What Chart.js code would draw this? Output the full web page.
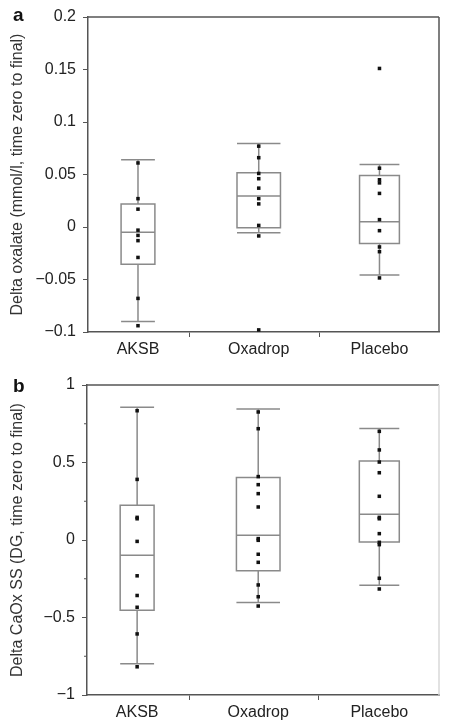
<!DOCTYPE html>
<html>
<head>
<meta charset="utf-8">
<script src="https://cdn.jsdelivr.net/npm/chart.js@4.4.1/dist/chart.umd.min.js"></script>
<style>
  html, body { margin: 0; padding: 0; background: #fff; }
  #wrap { position: relative; width: 449px; height: 726px; }
  canvas { position: absolute; left: 0; }
</style>
</head>
<body>
<div id="wrap">
  <canvas id="chartA" width="449" height="360" style="top:0"></canvas>
  <canvas id="chartB" width="449" height="366" style="top:360px"></canvas>
</div>
<script>
const groups = ["AKSB", "Oxadrop", "Placebo"];

// panel a: delta oxalate, individual patients
const oxAksb    = [0.061, 0.027, 0.017, -0.003, -0.008, -0.013, -0.029, -0.068, -0.094];
const oxOxadrop = [0.077, 0.066, 0.051, 0.046, 0.037, 0.027, 0.022, 0.0015, -0.0085, -0.098];
const oxPlacebo = [0.151, 0.056, 0.045, 0.042, 0.032, 0.007, -0.0035, -0.019, -0.0235, -0.0485];
// panel a: box stats (whisker low, q1, median, q3, whisker high)
const oxLo  = [-0.090, -0.0054, -0.0456];
const oxQ1  = [-0.0355, -0.0007, -0.0156];
const oxMed = [-0.005, 0.0295, 0.005];
const oxQ3  = [0.022, 0.0516, 0.049];
const oxHi  = [0.064, 0.0795, 0.0595];
const oxTicks = [-0.1, -0.05, 0, 0.05, 0.1, 0.15, 0.2];

// panel b: delta CaOx SS
const ssAksb    = [0.834, 0.391, 0.146, 0.137, -0.009, -0.231, -0.358, -0.434, -0.606, -0.818];
const ssOxadrop = [0.826, 0.718, 0.409, 0.357, 0.299, 0.213, 0.009, -0.002, -0.092, -0.144, -0.290, -0.366, -0.426];
const ssPlacebo = [0.701, 0.581, 0.503, 0.434, 0.282, 0.146, 0.137, 0.041, -0.015, -0.030, -0.247, -0.316];
const ssLo  = [-0.798, -0.404, -0.292];
const ssQ1  = [-0.453, -0.198, -0.013];
const ssMed = [-0.099, 0.030, 0.166];
const ssQ3  = [0.224, 0.404, 0.510];
const ssHi  = [0.856, 0.845, 0.720];
const ssTicks = [-1, -0.5, 0, 0.5, 1];
const ssMinor = [-0.75, -0.25, 0.25, 0.75];

const FONT = "'Liberation Sans', Arial, sans-serif";
const AXIS = "#555";
const BOXC = "#8a8a8a";
const boxWidths = [0.28, 0.36, 0.33];
const sepTicks = [1.43, 2.5];

function fmt(v) {
  const r = Math.round(v * 100) / 100;
  return r === 0 ? "0" : String(r).replace("-", "\u2212");
}

function boxPlugin(stats, letter, opt) {
  return {
    id: "boxes",
    beforeDatasetsDraw(chart) {
      const { ctx, scales: { x, y } } = chart;
      ctx.save();
      ctx.strokeStyle = BOXC;
      ctx.lineWidth = 1.5;
      stats.q1.forEach((q1, i) => {
        const xc = x.getPixelForValue(i + 1);
        const hw = x.getPixelForValue(i + 1 + boxWidths[i] / 2) - xc;
        const lo = y.getPixelForValue(stats.lo[i]);
        const hi = y.getPixelForValue(stats.hi[i]);
        const b = y.getPixelForValue(q1);
        const t = y.getPixelForValue(stats.q3[i]);
        const m = y.getPixelForValue(stats.med[i]);
        ctx.beginPath();
        ctx.moveTo(xc, hi); ctx.lineTo(xc, t);
        ctx.moveTo(xc, b); ctx.lineTo(xc, lo);
        ctx.moveTo(xc - hw, hi); ctx.lineTo(xc + hw, hi);
        ctx.moveTo(xc - hw, lo); ctx.lineTo(xc + hw, lo);
        ctx.moveTo(xc - hw, m); ctx.lineTo(xc + hw, m);
        ctx.rect(xc - hw, t, 2 * hw, b - t);
        ctx.stroke();
      });
      ctx.restore();
    },
    afterDraw(chart) {
      const { ctx, chartArea: a, scales: { y } } = chart;
      ctx.save();
      // top and right frame
      ctx.lineWidth = 1.5;
      ctx.strokeStyle = AXIS;
      ctx.beginPath();
      ctx.moveTo(a.left, a.top); ctx.lineTo(a.right, a.top);
      ctx.stroke();
      ctx.strokeStyle = opt.rightColor;
      ctx.beginPath();
      ctx.moveTo(a.right, a.top); ctx.lineTo(a.right, a.bottom);
      ctx.stroke();
      // minor ticks
      ctx.strokeStyle = AXIS;
      ctx.lineWidth = 1;
      (opt.minor || []).forEach(v => {
        const py = y.getPixelForValue(v);
        ctx.beginPath();
        ctx.moveTo(a.left - 3, py); ctx.lineTo(a.left, py);
        ctx.stroke();
      });
      // panel letter
      ctx.fillStyle = "#111";
      ctx.font = "bold 19px " + FONT;
      ctx.fillText(letter, 13, opt.letterY);
      ctx.restore();
    }
  };
}

function makeChart(id, sets, stats, yMin, yMax, ticks, title, layout, letter, opt) {
  const datasets = sets.map((pts, i) => ({
    data: pts.map(v => ({ x: i + 1, y: v })),
    pointStyle: "rect",
    pointRadius: 2.5,
    pointBorderWidth: 0,
    backgroundColor: "#111",
    borderColor: "#111",
    showLine: false
  }));
  return new Chart(document.getElementById(id), {
    type: "scatter",
    data: { datasets },
    options: {
      responsive: false,
      animation: false,
      layout: { padding: { top: layout.top, right: 10, left: 0, bottom: 0 } },
      plugins: { legend: { display: false }, tooltip: { enabled: false } },
      scales: {
        x: {
          type: "linear",
          min: 0.586,
          max: 3.493,
          afterBuildTicks: s => {
            s.ticks = [1, 2, 3].concat(sepTicks).sort((p, q) => p - q).map(v => ({ value: v }));
          },
          afterFit: s => { s.height = layout.xh; },
          ticks: {
            autoSkip: false,
            maxRotation: 0,
            padding: 3,
            color: "#222",
            font: { family: FONT, size: 16 },
            callback: v => Number.isInteger(v) ? groups[v - 1] : ""
          },
          grid: {
            drawOnChartArea: false,
            tickLength: 5,
            tickColor: c => (c.tick && !Number.isInteger(c.tick.value)) ? AXIS : "rgba(0,0,0,0)"
          },
          border: { color: AXIS, width: 1.5 }
        },
        y: {
          min: yMin,
          max: yMax,
          afterBuildTicks: s => { s.ticks = ticks.map(v => ({ value: v })); },
          afterFit: s => { s.width = layout.yw; },
          ticks: {
            padding: 7,
            color: "#222",
            font: { family: FONT, size: 16 },
            callback: v => fmt(v)
          },
          grid: { drawOnChartArea: false, tickLength: 5, tickColor: AXIS },
          border: { color: AXIS, width: 1.5 },
          title: {
            display: true,
            text: title,
            color: "#333",
            font: { family: FONT, size: 16 },
            padding: { top: 8, bottom: 0 }
          }
        }
      }
    },
    plugins: [boxPlugin(stats, letter, opt)]
  });
}

makeChart("chartA",
  [oxAksb, oxOxadrop, oxPlacebo],
  { lo: oxLo, q1: oxQ1, med: oxMed, q3: oxQ3, hi: oxHi },
  -0.1, 0.2, oxTicks,
  "Delta oxalate (mmol/l, time zero to final)",
  { top: 17, yw: 88, xh: 28 },
  "a", { rightColor: AXIS, letterY: 21 });

makeChart("chartB",
  [ssAksb, ssOxadrop, ssPlacebo],
  { lo: ssLo, q1: ssQ1, med: ssMed, q3: ssQ3, hi: ssHi },
  -1, 1, ssTicks,
  "Delta CaOx SS (DG, time zero to final)",
  { top: 25, yw: 87, xh: 31 },
  "b", { rightColor: "#d8d8d8", letterY: 32, minor: ssMinor });
</script>
</body>
</html>
